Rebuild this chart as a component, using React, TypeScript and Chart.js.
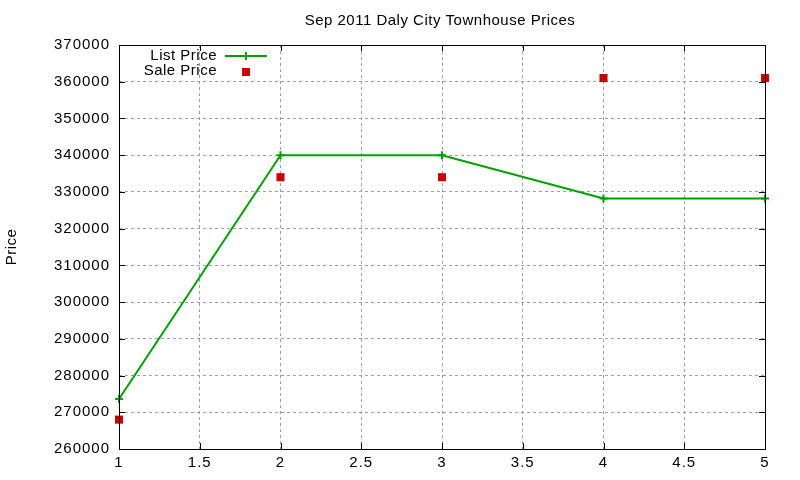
import React, { useEffect, useRef } from 'react';
import { Chart, registerables } from 'chart.js';

Chart.register(...registerables);

const xValues = [1, 2, 3, 4, 5];
const listPrices = [273600, 340000, 340000, 328200, 328200];
const salePrices = [268000, 334000, 334000, 361000, 361000];
const titleText = 'Sep 2011 Daly City Townhouse Prices';
const yAxisTitle = 'Price';
const legendLabels = ['List Price', 'Sale Price'];

const FONT = '"Liberation Sans", Arial, sans-serif';
const GREEN = '#00a000';
const RED = '#cc0000';

// gnuplot-like frame, inward ticks, title, y label and legend
const gnuplotDecor = {
  id: 'gnuplotDecor',
  beforeDraw(chart: any) {
    (chart.ctx as any).letterSpacing = '1px';
  },
  afterDraw(chart: any) {
    const { ctx, chartArea: a, scales } = chart;
    ctx.save();
    ctx.strokeStyle = '#000';
    ctx.lineWidth = 1;
    ctx.setLineDash([]);
    ctx.strokeRect(Math.round(a.left) + 0.5, Math.round(a.top) + 0.5, Math.round(a.right - a.left), Math.round(a.bottom - a.top));
    const tl = 6;
    ctx.beginPath();
    scales.y.ticks.forEach((t: any) => {
      const y = Math.round(scales.y.getPixelForValue(t.value)) + 0.5;
      ctx.moveTo(a.left, y); ctx.lineTo(a.left + tl, y);
      ctx.moveTo(a.right, y); ctx.lineTo(a.right - tl, y);
    });
    scales.x.ticks.forEach((t: any) => {
      const x = Math.round(scales.x.getPixelForValue(t.value)) + 0.5;
      ctx.moveTo(x, a.bottom); ctx.lineTo(x, a.bottom - tl);
      ctx.moveTo(x, a.top); ctx.lineTo(x, a.top + tl);
    });
    ctx.stroke();

    ctx.fillStyle = '#000';
    (ctx as any).letterSpacing = '0.5px';
    ctx.font = `15px ${FONT}`;
    ctx.textAlign = 'center';
    ctx.textBaseline = 'middle';
    ctx.fillText(titleText, 440, 21);

    ctx.save();
    ctx.translate(12, 247);
    ctx.rotate(-Math.PI / 2);
    ctx.fillText(yAxisTitle, 0, 0);
    ctx.restore();

    // legend
    ctx.textAlign = 'right';
    ctx.fillText(legendLabels[0], 217, 56);
    ctx.fillText(legendLabels[1], 217, 71);
    ctx.strokeStyle = GREEN;
    ctx.lineWidth = 2;
    ctx.beginPath();
    ctx.moveTo(225, 56); ctx.lineTo(267, 56);
    ctx.moveTo(246, 52); ctx.lineTo(246, 60);
    ctx.stroke();
    ctx.fillStyle = RED;
    ctx.fillRect(242, 68, 8, 8);
    ctx.restore();
  },
};

const App: React.FC = () => {
  const canvasRef = useRef<HTMLCanvasElement>(null);
  const chartRef = useRef<Chart | null>(null);

  useEffect(() => {
    document.body.style.margin = '0';
    const ctx = canvasRef.current?.getContext('2d');
    if (!ctx) return;
    if (chartRef.current) chartRef.current.destroy();

    chartRef.current = new Chart(ctx, {
      type: 'line',
      data: {
        datasets: [
          {
            label: legendLabels[0],
            data: xValues.map((x, i) => ({ x, y: listPrices[i] })),
            borderColor: GREEN,
            backgroundColor: GREEN,
            borderWidth: 2,
            pointStyle: 'cross',
            pointRadius: 4,
            pointBorderWidth: 2,
            pointBorderColor: GREEN,
            tension: 0,
            fill: false,
          },
          {
            label: legendLabels[1],
            data: xValues.map((x, i) => ({ x, y: salePrices[i] })),
            showLine: false,
            pointStyle: 'rect',
            pointRadius: 5.7,
            pointBorderWidth: 0,
            pointBackgroundColor: RED,
            backgroundColor: RED,
            borderColor: RED,
          },
        ],
      },
      options: {
        animation: false,
        responsive: false,
        clip: false as any,
        layout: { padding: { left: 0, top: 45, right: 35, bottom: 0 } },
        plugins: {
          legend: { display: false },
          title: { display: false },
          tooltip: { enabled: false },
        },
        scales: {
          x: {
            type: 'linear',
            min: 1,
            max: 5,
            ticks: {
              stepSize: 0.5,
              color: '#000',
              font: { family: FONT, size: 15 },
              padding: 5,
              maxRotation: 0,
              callback: (v: any) => String(v),
            },
            grid: {
              color: '#a0a0a0',
              drawTicks: false,
            },
            border: { display: false, dash: [3, 3] },
            afterFit: (s: any) => { s.height = 31; },
          },
          y: {
            min: 260000,
            max: 370000,
            ticks: {
              stepSize: 10000,
              color: '#000',
              font: { family: FONT, size: 15 },
              padding: 9,
              callback: (v: any) => String(v),
            },
            grid: {
              color: '#a0a0a0',
              drawTicks: false,
            },
            border: { display: false, dash: [3, 3] },
            afterFit: (s: any) => { s.width = 119; },
          },
        },
      },
      plugins: [gnuplotDecor],
    });

    return () => {
      chartRef.current?.destroy();
      chartRef.current = null;
    };
  }, []);

  return (
    <div style={{ position: 'absolute', left: 0, top: 0, width: 800, height: 480, background: '#fff' }}>
      <canvas ref={canvasRef} width={800} height={480} style={{ width: 800, height: 480 }} />
    </div>
  );
};

export default App;
